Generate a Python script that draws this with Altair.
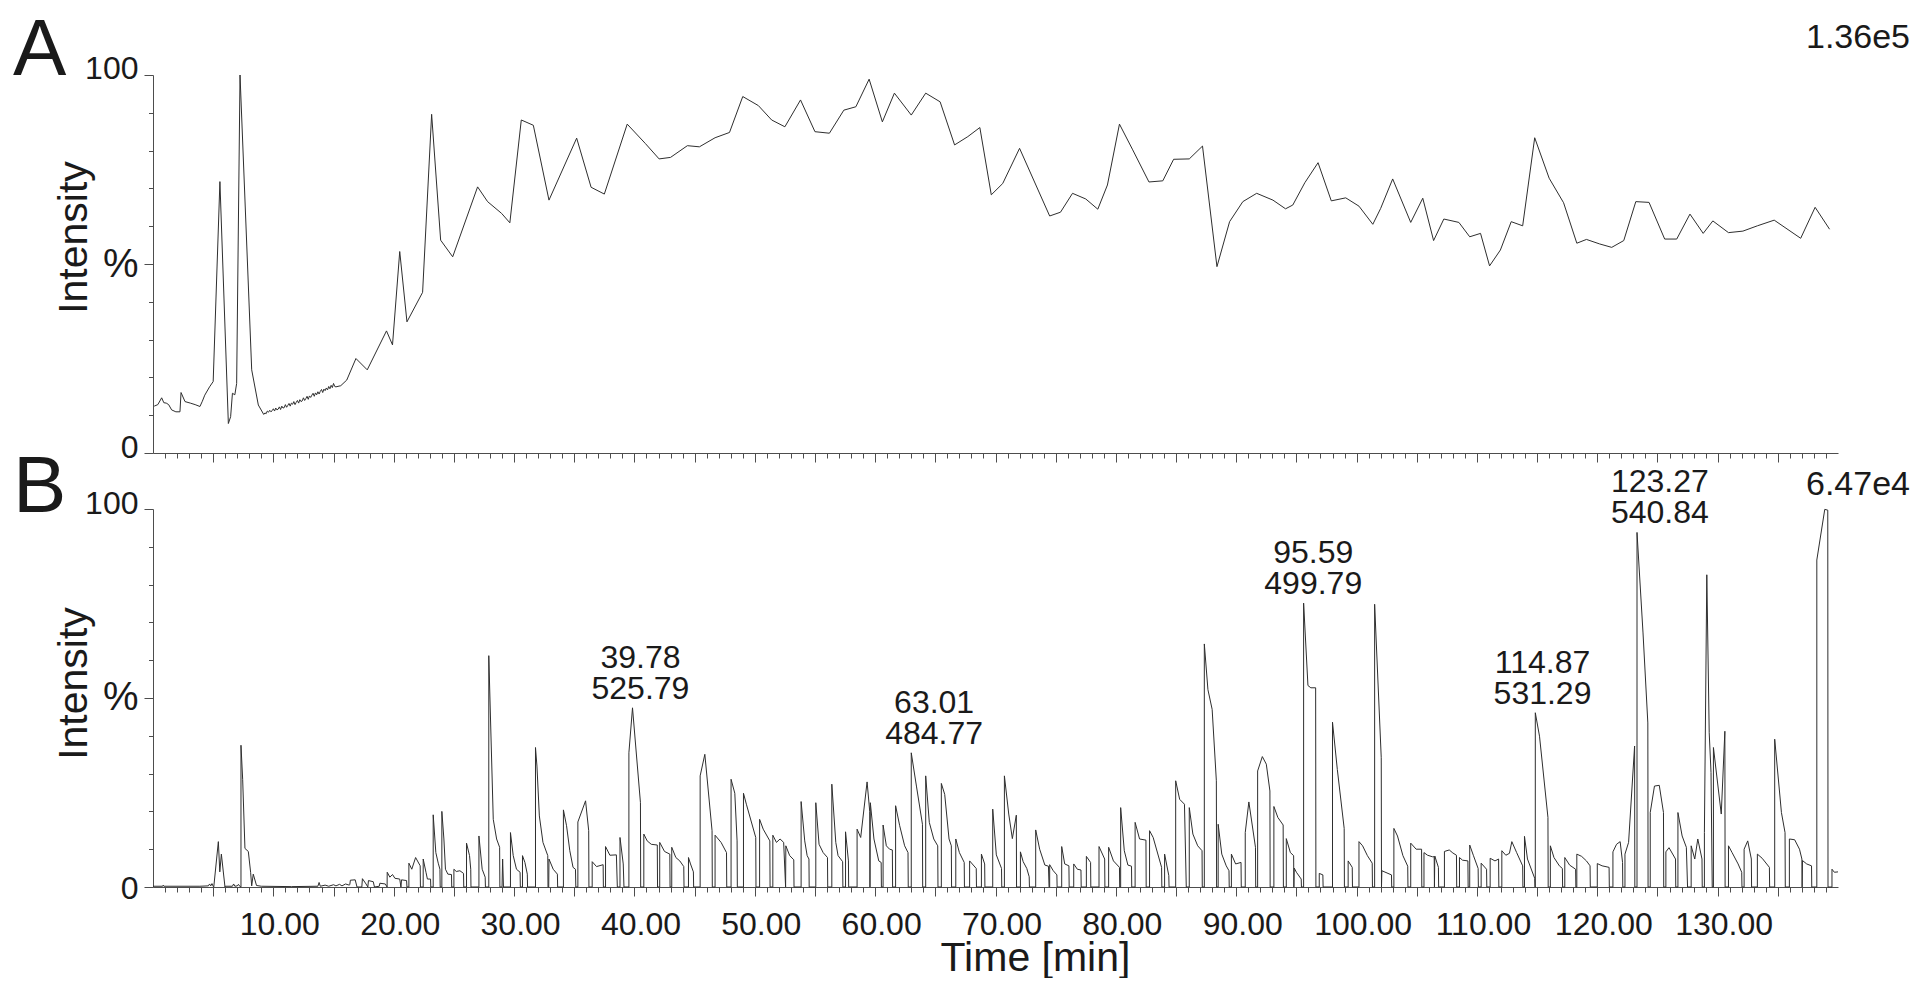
import altair as alt
import pandas as pd

FONT = "Liberation Sans"
INK = "#1a1a1a"
AXIS = "#4d4d4d"
TRACE = "#2e2e2e"

# ---------------- Panel A : total ion chromatogram (relative %, 100 % = 1.36e5) ----------------
A_time = [
    0.1, 0.4, 0.72, 0.9, 1.1, 1.3, 1.55, 1.9, 2.24, 2.33, 2.66, 3.1, 3.5, 3.9, 4.1, 4.3, 4.7, 5.0,
    5.56, 6.26, 6.45, 6.6, 6.8, 6.95, 7.23, 8.2, 8.75,
    9.2, 9.3, 9.4, 9.5, 9.6, 9.7, 9.8, 9.9, 10.0, 10.1, 10.2, 10.3, 10.4, 10.5, 10.6, 10.7, 10.8, 10.9,
    11.0, 11.1, 11.2, 11.3, 11.4, 11.5, 11.6, 11.7, 11.8, 11.9, 12.0, 12.1, 12.2, 12.3, 12.4, 12.5,
    12.6, 12.7, 12.8, 12.9, 13.0, 13.1, 13.2, 13.3, 13.4, 13.5, 13.6, 13.7, 13.8, 13.9, 14.0, 14.1,
    14.2, 14.3, 14.4, 14.5, 14.6, 14.7, 14.8, 14.9, 15.0, 15.1, 15.2, 15.6, 16.1,
    16.86, 17.8, 19.4, 19.9, 20.5, 21.1, 22.4, 23.15, 23.9, 24.9, 26.97, 27.8, 28.96, 29.65,
    30.6, 31.6, 32.9, 35.2, 36.4, 37.5, 39.4, 40.9, 42.05, 43.0, 44.4, 45.4, 46.7, 47.9, 49.0,
    50.3, 51.4, 52.5, 53.8, 55.0, 56.2, 57.4, 58.4, 59.5, 60.6, 61.6, 63.0, 64.2, 65.4, 66.6, 67.7, 68.7, 69.65,
    70.6, 72.0, 74.5, 75.4, 76.4, 77.5, 78.5, 79.3, 80.3, 81.4, 82.75, 83.9, 84.8, 86.1, 87.2, 88.4, 89.45,
    90.55, 91.7, 93.05, 94.1, 94.7, 95.7, 96.8, 97.9, 99.1, 100.2, 101.35, 102.0, 103.0, 104.5, 105.5, 106.4, 107.25, 108.5,
    109.4, 110.3, 111.05, 111.95, 112.85, 113.8, 114.8, 116.0, 117.2, 118.3, 119.1, 120.2, 121.2, 122.2, 123.2,
    124.3, 125.6, 126.6, 127.7, 128.8, 129.6,
    130.9, 132.1, 133.3, 134.7, 136.9, 138.1, 139.3,
]
A_int = [
    12.4, 12.8, 14.6, 13.3, 13.2, 12.8, 11.4, 10.9, 10.9, 16.0, 13.6, 13.2, 12.8, 12.3, 13.7, 15.3, 17.5, 18.9,
    71.8, 7.8, 9.6, 15.8, 15.4, 18.4, 100.0, 22.0, 12.7,
    10.2, 10.6, 10.4, 11.1, 10.8, 11.3, 10.9, 11.2, 11.7, 11.1, 11.9, 11.4, 11.6, 12.2, 11.5, 12.4, 11.9, 12.0,
    12.8, 12.1, 12.6, 13.1, 12.4, 13.2, 12.9, 13.6, 12.8, 13.4, 13.9, 13.2, 14.1, 13.6, 13.8, 14.6,
    13.9, 14.4, 15.0, 14.2, 15.1, 14.7, 15.3, 15.8, 15.0, 15.9, 15.4, 16.2, 15.6, 16.3, 16.8, 16.0,
    16.9, 16.5, 17.2, 16.7, 17.6, 17.0, 17.9, 17.3, 18.4, 17.6, 17.5, 17.8, 19.3,
    25.0, 22.0, 32.3, 28.6, 53.3, 34.7, 42.5, 89.6, 56.3, 51.9, 70.4, 66.5, 63.4, 60.9,
    88.1, 86.7, 66.9, 83.3, 70.3, 68.5, 87.0, 81.9, 77.8, 78.2, 81.3, 81.0, 83.4, 84.8, 94.3,
    91.9, 88.1, 86.3, 93.4, 85.0, 84.6, 90.7, 91.6, 98.9, 87.6, 95.2, 89.4, 95.2, 92.9, 81.5, 83.7, 86.1, 68.3,
    71.3, 80.6, 62.7, 63.7, 68.7, 67.2, 64.5, 70.9, 87.0, 80.2, 71.7, 72.0, 77.7, 77.8, 81.2, 49.3, 61.2,
    66.5, 68.7, 66.9, 64.6, 65.6, 71.5, 76.8, 66.7, 67.5, 65.3, 60.5, 64.7, 72.5, 61.0, 67.4, 56.2, 61.9, 61.0,
    57.2, 58.1, 49.5, 53.7, 61.2, 60.1, 83.4, 72.7, 66.2, 55.5, 56.5, 55.3, 54.4, 56.2, 66.5,
    66.3, 56.6, 56.6, 63.2, 58.1, 61.4,
    58.3, 58.7, 60.1, 61.6, 56.8, 65.0, 59.2,
]

# ---------------- Panel B : base peak chromatogram (relative %, 100 % = 6.47e4) ----------------
B_trace = [
    (0.0, 0.2), (0.8, 0.2), (0.85, 0.5), (0.9, 0.2), (3.9, 0.2), (4.6, 0.3), (4.7, 0.8), (4.8, 0.3), (4.9, 0.9), (5.0, 0.2),
    (5.05, 0.0), (5.43, 12.0), (5.55, 4.0), (5.68, 8.7), (5.98, 0.0),
    (6.0, 0.2), (6.6, 0.2), (6.7, 0.8), (6.8, 0.2), (7.0, 0.3), (7.1, 0.7), (7.2, 0.2),
    (7.31, 0.0), (7.31, 37.5), (7.45, 28.5), (7.64, 10.2), (7.92, 9.4), (8.11, 3.9), (8.2, 0.3), (8.33, 3.4), (8.6, 0.4),
    (9.0, 0.2), (11.5, 0.1), (13.7, 0.2), (13.8, 1.2), (13.9, 0.2), (14.3, 0.5), (14.6, 0.2), (15.0, 0.6), (15.2, 0.3),
    (15.5, 0.7), (15.7, 0.3), (16.0, 0.8), (16.3, 0.5),
    (16.35, 0.6), (16.4, 1.8), (16.8, 1.9), (16.95, 0.0),
    (17.35, 0.0), (17.4, 2.2), (17.7, 0.8), (17.85, 0.0), (17.9, 1.7), (18.3, 1.4), (18.4, 0.0),
    (18.8, 0.2), (18.85, 1.0), (19.3, 0.8), (19.45, 0.0),
    (19.46, 3.9), (19.68, 2.6), (19.9, 3.3), (20.1, 2.3), (20.5, 2.1), (20.6, 0.0), (20.65, 1.9), (21.07, 1.7), (21.1, 0.0),
    (21.26, 0.0), (21.26, 6.3), (21.5, 4.7), (21.82, 7.8), (22.2, 5.6), (22.22, 0.0),
    (22.45, 0.0), (22.45, 7.4), (22.68, 3.9), (22.8, 2.1), (23.06, 2.1), (23.08, 0.0),
    (23.28, 0.0), (23.28, 19.1), (23.5, 9.1), (23.7, 6.3), (23.84, 4.7), (23.86, 0.0),
    (24.0, 0.0), (24.0, 20.0), (24.17, 12.7), (24.3, 4.7), (24.5, 3.4), (24.8, 3.3), (24.82, 0.0),
    (25.0, 0.0), (25.0, 4.7), (25.2, 4.1), (25.5, 4.3), (25.8, 3.6), (25.82, 0.0),
    (26.05, 0.0), (26.05, 11.6), (26.3, 8.3), (26.4, 4.7), (26.42, 0.0),
    (27.08, 0.0), (27.08, 13.5), (27.35, 4.7), (27.6, 2.6), (27.62, 0.0),
    (27.9, 0.0), (27.9, 61.2), (28.27, 17.9), (28.55, 12.7), (28.8, 10.5), (28.82, 0.0),
    (29.0, 0.0), (29.05, 7.4), (29.12, 0.0),
    (29.7, 0.0), (29.7, 14.4), (29.93, 8.3), (30.2, 4.7), (30.5, 3.9), (30.52, 0.0),
    (30.7, 0.0), (30.7, 8.3), (30.9, 6.5), (31.1, 3.4), (31.12, 0.0),
    (31.78, 0.0), (31.78, 36.9), (31.9, 32.0), (32.1, 18.8), (32.4, 11.8), (32.8, 8.3), (32.82, 0.0),
    (32.88, 0.0), (32.9, 7.4), (33.25, 4.7), (33.6, 3.4), (33.62, 0.0),
    (34.1, 0.0), (34.1, 20.4), (34.36, 16.2), (34.63, 9.6), (34.9, 5.2), (35.1, 4.7), (35.13, 0.0),
    (35.3, 0.0), (35.3, 17.2), (35.94, 22.8), (36.2, 14.9), (36.22, 0.0),
    (36.49, 0.0), (36.49, 6.7), (36.85, 5.4), (37.4, 5.9), (37.42, 0.0),
    (37.6, 0.0), (37.6, 10.7), (37.96, 8.4), (38.5, 8.5), (38.58, 0.0),
    (38.8, 0.0), (38.8, 13.1), (39.07, 6.1), (39.13, 0.0),
    (39.54, 0.0), (39.54, 35.5), (39.84, 47.4), (40.5, 22.3), (40.52, 0.0),
    (40.78, 0.0), (40.78, 14.0), (41.06, 12.2), (41.4, 11.3), (41.9, 11.1), (41.92, 0.0),
    (42.1, 0.0), (42.1, 11.8), (42.5, 9.4), (42.94, 8.7), (42.96, 0.0),
    (43.1, 0.0), (43.1, 10.5), (43.44, 7.8), (43.77, 6.9), (44.1, 5.4), (44.12, 0.0),
    (44.49, 0.0), (44.49, 7.8), (44.66, 6.1), (44.9, 4.0), (44.92, 0.0),
    (45.46, 0.0), (45.46, 29.4), (45.85, 35.1), (46.45, 14.9), (46.47, 0.0),
    (46.7, 0.0), (46.7, 13.7), (47.2, 11.8), (47.65, 9.1), (47.67, 0.0),
    (48.03, 0.0), (48.03, 28.5), (48.34, 24.8), (48.53, 12.2), (48.55, 0.0),
    (49.06, 0.0), (49.06, 24.8), (49.3, 21.9), (50.08, 13.1), (50.1, 0.0),
    (50.4, 0.0), (50.4, 17.9), (50.7, 15.3), (51.25, 12.2), (51.27, 0.0),
    (51.5, 0.0), (51.5, 13.7), (51.8, 11.8), (52.1, 12.7), (52.4, 11.8), (52.56, 0.0),
    (52.58, 10.9), (52.9, 8.3), (53.24, 7.2), (53.26, 0.0),
    (53.85, 0.0), (53.85, 22.6), (54.15, 12.2), (54.35, 8.3), (54.5, 7.4), (54.52, 0.0),
    (55.07, 0.0), (55.07, 22.3), (55.34, 11.3), (55.68, 9.1), (56.04, 7.8), (56.06, 0.0),
    (56.4, 0.0), (56.4, 27.2), (56.73, 11.8), (56.92, 8.3), (57.3, 6.7), (57.32, 0.0),
    (57.54, 0.0), (57.54, 14.6), (57.78, 6.9), (57.8, 0.0),
    (58.5, 0.0), (58.5, 15.3), (58.8, 13.1), (59.33, 27.8), (59.55, 20.0), (59.57, 0.0),
    (59.6, 22.3), (59.9, 12.7), (60.3, 6.9), (60.5, 6.5), (60.52, 0.0),
    (60.66, 0.0), (60.66, 16.4), (60.93, 10.9), (61.2, 10.0), (61.43, 9.8), (61.45, 0.0),
    (61.7, 0.0), (61.7, 21.5), (62.04, 16.2), (62.45, 10.9), (62.73, 9.1), (62.75, 0.0),
    (63.0, 0.0), (63.0, 35.5), (63.43, 26.7), (63.93, 16.6), (63.95, 0.0),
    (64.2, 0.0), (64.2, 29.4), (64.5, 17.1), (64.87, 12.7), (65.2, 10.9), (65.22, 0.0),
    (65.5, 0.0), (65.5, 27.4), (65.78, 24.5), (66.14, 12.7), (66.33, 10.9), (66.35, 0.0),
    (66.7, 0.0), (66.7, 12.7), (67.0, 9.1), (67.4, 6.5), (67.42, 0.0),
    (67.85, 0.0), (67.85, 6.9), (68.4, 4.9), (68.42, 0.0),
    (68.83, 0.0), (68.83, 8.7), (69.1, 6.1), (69.12, 0.0),
    (69.77, 0.0), (69.77, 20.6), (70.07, 8.5), (70.5, 4.9), (70.52, 0.0),
    (70.74, 0.0), (70.74, 29.4), (71.1, 19.3), (71.4, 12.8), (71.73, 19.0), (71.75, 0.0),
    (72.07, 0.0), (72.07, 9.3), (72.3, 6.7), (72.6, 4.9), (72.8, 2.7), (72.82, 0.0),
    (73.34, 0.0), (73.34, 15.1), (73.67, 10.0), (74.1, 5.8), (74.4, 5.5), (74.45, 0.0),
    (74.5, 0.0), (74.5, 5.9), (74.8, 4.3), (75.1, 3.2), (75.12, 0.0),
    (75.5, 0.0), (75.5, 10.7), (75.75, 6.1), (76.1, 5.6), (76.12, 0.0),
    (76.5, 0.0), (76.5, 6.1), (76.8, 4.7), (77.1, 4.5), (77.12, 0.0),
    (77.55, 0.0), (77.55, 8.1), (77.9, 6.5), (77.92, 0.0),
    (78.6, 0.0), (78.6, 10.7), (79.07, 7.4), (79.09, 0.0),
    (79.4, 0.0), (79.4, 10.5), (79.8, 6.9), (80.3, 5.2), (80.32, 0.0),
    (80.4, 0.0), (80.4, 21.0), (80.7, 9.6), (81.0, 5.8), (81.3, 5.5), (81.32, 0.0),
    (81.6, 0.0), (81.6, 17.1), (81.97, 12.7), (82.5, 12.4), (82.52, 0.0),
    (82.8, 0.0), (82.8, 14.9), (83.1, 13.1), (83.8, 5.2), (83.82, 0.0),
    (84.05, 0.0), (84.05, 8.7), (84.4, 3.0), (84.42, 0.0),
    (84.97, 0.0), (84.97, 28.1), (85.3, 23.2), (85.7, 21.9), (85.85, 0.0),
    (86.1, 0.0), (86.1, 21.0), (86.4, 14.0), (86.8, 10.9), (87.16, 9.6), (87.18, 0.0),
    (87.35, 0.0), (87.35, 64.3), (87.65, 52.2), (88.0, 47.0), (88.35, 28.1), (88.37, 0.0),
    (88.5, 0.0), (88.5, 16.6), (88.8, 8.7), (89.17, 5.6), (89.4, 4.3), (89.42, 0.0),
    (89.6, 0.0), (89.6, 8.7), (89.95, 6.1), (90.4, 6.5), (90.42, 0.0),
    (90.75, 0.0), (90.75, 14.4), (91.05, 22.5), (91.6, 10.5), (91.62, 0.0),
    (91.78, 0.0), (91.78, 30.7), (92.17, 34.5), (92.5, 32.5), (92.8, 25.4), (92.82, 0.0),
    (93.13, 0.0), (93.13, 21.3), (93.46, 18.4), (93.9, 16.4), (93.92, 0.0),
    (94.16, 0.0), (94.16, 12.8), (94.5, 9.1), (94.77, 8.3), (94.79, 0.0),
    (94.82, 5.0), (95.0, 3.9), (95.4, 2.1), (95.42, 0.0),
    (95.6, 0.0), (95.6, 75.1), (95.96, 53.3), (96.2, 52.7), (96.6, 52.7), (96.62, 0.0),
    (96.9, 0.0), (96.9, 3.6), (97.2, 3.2), (97.22, 0.0),
    (98.0, 0.0), (98.0, 43.6), (98.4, 31.1), (98.97, 15.5), (98.99, 0.0),
    (99.3, 0.0), (99.3, 6.9), (99.64, 5.2), (99.66, 0.0),
    (100.2, 0.0), (100.2, 12.0), (100.5, 10.9), (100.9, 8.3), (101.3, 6.3), (101.32, 0.0),
    (101.5, 0.0), (101.5, 74.8), (102.05, 34.2), (102.07, 0.0),
    (102.1, 4.3), (102.9, 3.2), (102.92, 0.0),
    (103.1, 0.0), (103.1, 15.5), (103.4, 13.5), (103.85, 8.3), (104.25, 5.5), (104.27, 0.0),
    (104.5, 0.0), (104.5, 11.6), (104.95, 10.0), (105.4, 10.0), (105.42, 0.0),
    (105.6, 0.0), (105.6, 9.1), (105.9, 8.4), (106.3, 8.0), (106.45, 8.0), (106.47, 0.0),
    (106.5, 8.2), (106.8, 5.2), (106.82, 0.0),
    (107.3, 0.0), (107.3, 9.4), (107.7, 9.8), (108.0, 9.0), (108.3, 8.4), (108.32, 0.0),
    (108.55, 0.0), (108.55, 7.8), (108.8, 7.1), (109.25, 6.9), (109.27, 0.0),
    (109.4, 0.0), (109.4, 11.1), (109.7, 8.4), (110.1, 4.9), (110.12, 0.0),
    (110.35, 0.0), (110.35, 6.3), (110.8, 4.7), (110.82, 0.0),
    (111.1, 0.0), (111.1, 7.6), (111.5, 6.9), (111.8, 7.4), (111.82, 0.0),
    (112.07, 0.0), (112.07, 9.6), (112.4, 8.4), (112.7, 8.9), (112.9, 12.0), (113.3, 9.1), (113.8, 5.6), (113.82, 0.0),
    (113.95, 0.0), (113.95, 13.4), (114.2, 7.4), (114.8, 2.3), (114.82, 0.0),
    (114.85, 0.0), (114.85, 46.1), (115.2, 39.9), (115.9, 18.4), (115.92, 0.0),
    (116.1, 0.0), (116.1, 10.9), (116.4, 7.8), (116.85, 5.6), (117.1, 4.9), (117.12, 0.0),
    (117.3, 0.0), (117.3, 7.8), (117.7, 5.8), (118.2, 4.7), (118.22, 0.0),
    (118.3, 0.0), (118.3, 8.7), (118.7, 8.1), (119.1, 6.9), (119.4, 5.6), (119.42, 0.0),
    (120.0, 0.0), (120.0, 6.2), (120.4, 5.6), (120.98, 5.2), (121.0, 0.0),
    (121.3, 0.0), (121.3, 9.3), (121.6, 11.3), (121.9, 12.0), (122.1, 6.5), (122.12, 0.0),
    (122.3, 0.0), (122.3, 8.7), (122.6, 11.8), (123.1, 37.3), (123.12, 0.0),
    (123.3, 0.0), (123.3, 93.8), (123.8, 67.2), (124.2, 43.4), (124.22, 0.0),
    (124.4, 0.0), (124.4, 19.7), (124.75, 26.7), (125.15, 26.9), (125.5, 19.7), (125.52, 0.0),
    (125.7, 0.0), (125.7, 9.3), (125.96, 10.4), (126.5, 7.4), (126.52, 0.0),
    (126.7, 0.0), (126.7, 19.7), (127.05, 13.5), (127.4, 10.5), (127.5, 0.0),
    (127.8, 0.0), (127.8, 10.9), (128.1, 7.4), (128.35, 12.7), (128.7, 7.4), (128.72, 0.0),
    (128.9, 0.0), (128.9, 14.4), (129.1, 82.6), (129.3, 40.8), (129.45, 30.3), (129.55, 0.0),
    (129.65, 0.0), (129.65, 36.9), (130.3, 19.3), (130.6, 41.2), (130.62, 0.0),
    (130.9, 0.0), (130.9, 10.9), (131.2, 9.1), (131.7, 6.1), (132.0, 3.9), (132.02, 0.0),
    (132.2, 0.0), (132.2, 10.0), (132.5, 12.2), (132.8, 7.4), (132.82, 0.0),
    (133.3, 0.0), (133.3, 8.7), (133.7, 7.6), (134.3, 5.2), (134.32, 0.0),
    (134.74, 0.0), (134.74, 39.1), (135.3, 19.7), (135.6, 14.4), (135.62, 0.0),
    (135.96, 0.0), (135.96, 12.7), (136.4, 12.5), (136.8, 10.0), (137.0, 7.4), (137.02, 0.0),
    (137.05, 7.0), (137.4, 6.1), (137.8, 5.6), (137.82, 0.0),
    (138.24, 0.0), (138.24, 86.5), (138.9, 99.9), (139.15, 99.7), (139.17, 0.0),
    (139.5, 0.0), (139.5, 4.7), (139.7, 3.9), (140.0, 4.0),
]
B_time = [p[0] for p in B_trace]
B_int = [p[1] for p in B_trace]

# annotated peaks of panel B (retention time / m/z)
peak_rt = ["39.78", "63.01", "95.59", "114.87", "123.27"]
peak_mz = ["525.79", "484.77", "499.79", "531.29", "540.84"]
peak_int = [47.4, 35.5, 75.1, 46.1, 93.8]
label_center = [40.5, 64.9, 96.4, 115.45, 125.2]

panel_letters = ["A", "B"]
full_scale = ["1.36e5", "6.47e4"]

T_MAX = 140
x_minor = list(range(1, T_MAX))
x_major = list(range(5, T_MAX, 5))
y_minor = [10, 20, 30, 40, 60, 70, 80, 90]

XS = alt.Scale(domain=[0, T_MAX], nice=False, zero=False)
YS = alt.Scale(domain=[0, 100], nice=False, zero=False)

TICK = dict(tickColor=AXIS, tickWidth=1, grid=False, labelOverlap=False)


def trace_df(t, v):
    return pd.DataFrame({"t": t, "v": v, "i": list(range(len(t)))})


def y_label_axis(value, text_expr, size, offset, with_title, title_y):
    kw = dict(orient="left", values=[value], tickSize=9, domain=with_title,
              domainColor=AXIS, domainWidth=1,
              labelExpr=text_expr, labelFont=FONT, labelFontSize=size, labelColor=INK,
              labelPadding=6, labelBaseline="middle", labelOffset=offset, **TICK)
    if with_title:
        kw.update(title="Intensity", titleFont=FONT, titleFontSize=41, titleFontWeight="normal",
                  titleColor=INK, titleX=-58, titleY=title_y, titleAlign="center",
                  titleAngle=270, titleBaseline="bottom")
    else:
        kw.update(title=None)
    return alt.Axis(**kw)


def panel(df, letter, scale_txt, letter_dy, scale_dy, title_y, offs, x_labels, peaks=None):
    major_kw = dict(orient="bottom", values=x_major, tickSize=9, domain=True,
                    domainColor=AXIS, domainWidth=1, labelFlush=False, **TICK)
    if x_labels:
        major_kw.update(
            labelExpr="datum.value % 10 === 0 ? format(datum.value, '.2f') : ''",
            labelFont=FONT, labelFontSize=32, labelColor=INK, labelPadding=13, labelOffset=6,
            title="Time [min]", titleFont=FONT, titleFontSize=41, titleFontWeight="normal",
            titleColor=INK, titleX=882, titleY=51, titleAlign="center", titleBaseline="top",
        )
    else:
        major_kw.update(labels=False, title=None)
    x_major_axis = alt.Axis(**major_kw)
    x_minor_axis = alt.Axis(orient="bottom", values=x_minor, tickSize=5, labels=False,
                            domain=False, title=None, **TICK)
    y_minor_axis = alt.Axis(orient="left", values=y_minor, tickSize=4.5, labels=False,
                            domain=False, title=None, **TICK)

    corner_l = pd.DataFrame({"t": [0], "v": [100]})
    corner_r = pd.DataFrame({"t": [T_MAX], "v": [100]})

    # trace: major x ticks (+labels) and the "100" y label with the axis title
    line = alt.Chart(df).mark_line(color=TRACE, strokeWidth=1).encode(
        x=alt.X("t:Q", scale=XS, axis=x_major_axis),
        y=alt.Y("v:Q", scale=YS, axis=y_label_axis(100, "'100'", 32, offs[0], True, title_y)),
        order="i:Q",
    )
    # panel letter: carries the minor ticks
    letter_mark = alt.Chart(corner_l).mark_text(
        text=letter, font=FONT, fontSize=80, color=INK, align="left",
        baseline="alphabetic", dx=-140, dy=letter_dy,
    ).encode(x=alt.X("t:Q", scale=XS, axis=x_minor_axis),
             y=alt.Y("v:Q", scale=YS, axis=y_minor_axis))
    # full-scale intensity: carries the "0" label
    scale_mark = alt.Chart(corner_r).mark_text(
        text=scale_txt, font=FONT, fontSize=34, color=INK, align="right",
        baseline="alphabetic", dx=72, dy=scale_dy,
    ).encode(x=alt.X("t:Q", scale=XS, axis=None),
             y=alt.Y("v:Q", scale=YS, axis=y_label_axis(0, "'0'", 32, offs[1], False, 0)))
    # invisible carrier for the "%" label
    pct_mark = alt.Chart(corner_l).mark_point(opacity=0, size=1).encode(
        x=alt.X("t:Q", scale=XS, axis=None),
        y=alt.Y("v:Q", scale=YS, axis=y_label_axis(50, "'%'", 40, offs[2], False, 0)))

    layers = [line, letter_mark, scale_mark, pct_mark]
    if peaks is not None:
        lbl = alt.Chart(peaks).mark_text(
            font=FONT, fontSize=32, color=INK, align="center", baseline="alphabetic",
            lineBreak="\n", lineHeight=31, dy=-40,
        ).encode(x=alt.X("lx:Q", scale=XS, axis=None),
                 y=alt.Y("pv:Q", scale=YS, axis=None),
                 text="txt:N")
        layers.append(lbl)

    return alt.layer(*layers).resolve_axis(x="independent", y="independent").properties(
        width=1685, height=378)


peaks_df = pd.DataFrame({
    "lx": label_center, "pv": peak_int,
    "txt": [f"{a}\n{b}" for a, b in zip(peak_rt, peak_mz)],
})

panel_a = panel(trace_df(A_time, A_int), panel_letters[0], full_scale[0],
                letter_dy=0, scale_dy=-27, title_y=162, offs=(-7, -6, 0), x_labels=False)
panel_b = panel(trace_df(B_time, B_int), panel_letters[1], full_scale[1],
                letter_dy=3, scale_dy=-14, title_y=174, offs=(-6, 1, -1), x_labels=True,
                peaks=peaks_df)

chart = (
    alt.vconcat(panel_a, panel_b, spacing=56, bounds="flush")
    .properties(padding={"left": 5, "top": 3, "right": 0, "bottom": 0}, background="white")
    .configure(font=FONT)
    .configure_view(strokeWidth=0)
)

chart.save("out.html", embed_options={"renderer": "svg", "actions": False})
